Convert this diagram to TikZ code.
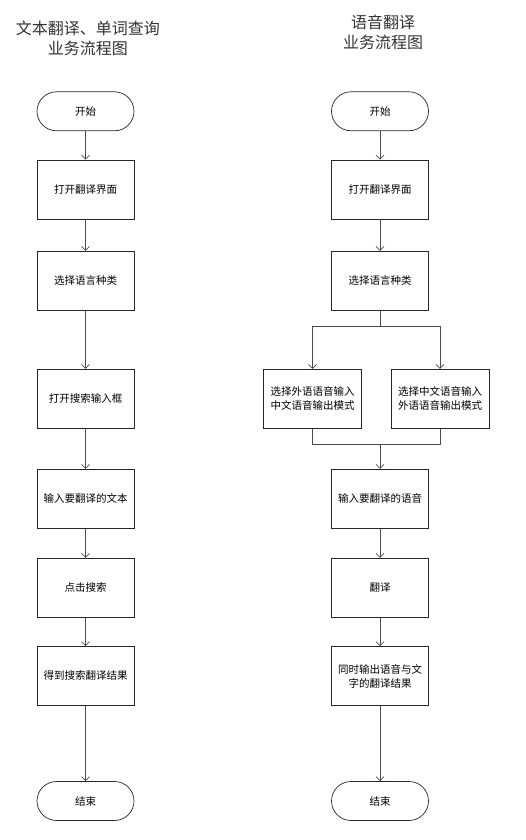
\documentclass[tikz,border=0pt]{standalone}
\usepackage{fontspec}
\setmainfont{Noto Sans CJK SC}
\usepackage{tikz}
\usetikzlibrary{arrows.meta}

\begin{document}
\begin{tikzpicture}[x=1pt,y=-1pt,
  term/.style={draw=black!85,line width=0.7pt,rounded corners=19.5pt,minimum width=97pt,minimum height=39pt,font=\fontsize{10.5}{14}\selectfont},
  box/.style={draw=black!85,line width=0.7pt,minimum width=97pt,minimum height=59pt,align=center,font=\fontsize{10.5}{14}\selectfont},
  arr/.style={draw=black!70,line width=0.7pt,-{Straight Barb[length=4pt,width=8pt]}},
  ln/.style={draw=black!70,line width=0.7pt},
  ttl/.style={align=center,text=black!80,font=\fontsize{16}{20}\selectfont}]
\useasboundingbox (0,0) rectangle (525,840);

% titles
\node[ttl] at (88,38) {文本翻译、单词查询\\业务流程图};
\node[ttl] at (383,32) {语音翻译\\业务流程图};

% left
\node[term] (v1) at (85.5,111.3) {开始};
\node[box] (v2) at (85.5,189.5) {打开翻译界面};
\node[box] (v3) at (85.5,280.8) {选择语言种类};
\node[box] (v4) at (85.5,398.7) {打开搜索输入框};
\node[box] (v5) at (85.5,498.8) {输入要翻译的文本};
\node[box] (v6) at (85.5,587.7) {点击搜索};
\node[box] (v7) at (85.5,676) {得到搜索翻译结果};
\node[term] (v8) at (85.5,801) {结束};
\draw[arr] (v1) edge (v2) (v2) edge (v3) (v3) edge (v4) (v4) edge (v5)
  (v5) edge (v6) (v6) edge (v7) (v7) edge (v8);

% right
\node[term] (w1) at (380,111.3) {开始};
\node[box] (w2) at (380,189.5) {打开翻译界面};
\node[box] (w3) at (380,280.8) {选择语言种类};
\node[box,minimum width=98pt] (w4) at (312.5,398.7) {选择外语语音输入\\中文语音输出模式};
\node[box,minimum width=98pt] (w5) at (440,398.7) {选择中文语音输入\\外语语音输出模式};
\node[box] (w6) at (380,498.8) {输入要翻译的语音};
\node[box] (w7) at (380,587.7) {翻译};
\node[box] (w8) at (380,676) {同时输出语音与文\\字的翻译结果};
\node[term] (w9) at (380,801) {结束};
\coordinate (s1) at (380,326);
\coordinate (s2) at (380,444);
\draw[arr] (w1) edge (w2) (w2) edge (w3);
\draw[ln] (w3) -- (s1);
\draw[arr] (s1) -| (w4.north);
\draw[arr] (s1) -| (w5.north);
\draw[ln] (w4.south) |- (s2);
\draw[ln] (w5.south) |- (s2);
\draw[arr] (s2) -- (w6);
\draw[arr] (w6) edge (w7) (w7) edge (w8) (w8) edge (w9);
\end{tikzpicture}
\end{document}
